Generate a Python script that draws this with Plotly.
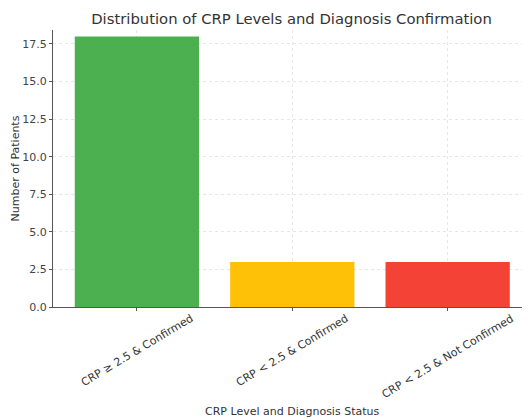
import plotly.graph_objects as go

categories = ["CRP ≥ 2.5 & Confirmed", "CRP < 2.5 & Confirmed", "CRP < 2.5 & Not Confirmed"]
patients = [18, 3, 3]
bar_colors = ["#4CAF50", "#FFC107", "#F44336"]
y_ticks = [0, 2.5, 5, 7.5, 10, 12.5, 15, 17.5]
y_tick_labels = ["0.0", "2.5", "5.0", "7.5", "10.0", "12.5", "15.0", "17.5"]

font_family = "DejaVu Sans, sans-serif"
text_color = "#333333"

# the page body has an 8px default margin; size the figure so the plot
# area lands where it sits in the reference
W, H = 522, 409

fig = go.Figure(
    go.Bar(
        x=categories,
        y=patients,
        marker=dict(color=bar_colors, line=dict(width=0)),
        width=0.8,
    )
)

annotations = []
for cat in categories:
    annotations.append(dict(
        x=cat, xref="x", y=0, yref="paper",
        text=cat, textangle=-31, showarrow=False,
        xanchor="center", yanchor="top", yshift=-2,
        font=dict(family=font_family, size=11, color=text_color),
    ))
annotations.append(dict(
    x=0.5, xref="paper", y=-0.378, yref="paper",
    text="CRP Level and Diagnosis Status", showarrow=False,
    xanchor="center", yanchor="middle",
    font=dict(family=font_family, size=11, color=text_color),
))

fig.update_layout(
    width=W, height=H,
    margin=dict(l=45, r=0, t=22, b=110, autoexpand=False),
    paper_bgcolor="white", plot_bgcolor="white",
    showlegend=False,
    title=dict(
        text="Distribution of CRP Levels and Diagnosis Confirmation",
        x=(45 + W) / 2 / W, xanchor="center",
        y=1 - 11 / H, yanchor="middle",
        font=dict(family=font_family, size=14.8, color=text_color),
    ),
    font=dict(family=font_family, size=11, color=text_color),
    annotations=annotations,
    bargap=0.2,
)

fig.update_xaxes(
    range=[-0.54, 2.53],
    showticklabels=False,
    showline=True, linecolor="#555555", linewidth=1,
    ticks="outside", ticklen=3, tickcolor="#555555",
    showgrid=True, gridcolor="#e6e6e6", griddash="dot", gridwidth=1,
    zeroline=False, automargin=False,
)
fig.update_yaxes(
    range=[0, 18.43],
    tickmode="array", tickvals=y_ticks, ticktext=y_tick_labels,
    tickfont=dict(family=font_family, size=11, color="#444444"),
    showline=True, linecolor="#555555", linewidth=1,
    ticks="outside", ticklen=3, tickcolor="#555555",
    showgrid=True, gridcolor="#e6e6e6", griddash="dot", gridwidth=1,
    zeroline=False, automargin=False,
    title=dict(text="Number of Patients", standoff=0,
               font=dict(family=font_family, size=11, color=text_color)),
)

fig.write_html("out.html")
